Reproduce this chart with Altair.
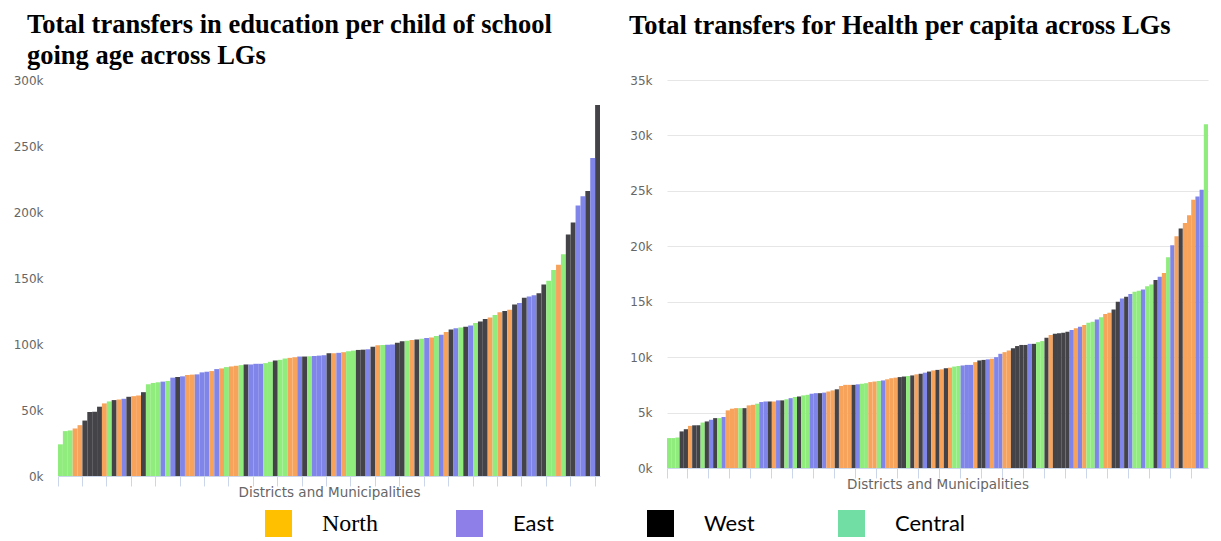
import altair as alt
import pandas as pd

REGIONS = ["North", "East", "West", "Central"]
BAR_COLORS = ["#f7a35c", "#8085e9", "#434348", "#90ed7d"]
LEGEND_COLORS = ["#ffc000", "#8e7fe8", "#000000", "#71dfa4"]

# Education transfers per child of school going age (UGX), sorted ascending
edu_values = [
    24000, 34000, 34500, 36000, 38500, 42000, 48500, 48700, 52500, 55000,
    56500, 57500, 58000, 58500, 60000, 60500, 61000, 63500, 69500, 70500,
    71000, 71500, 72000, 74500, 75000, 75500, 76500, 76800, 77000, 78500,
    79000, 79500, 81000, 81500, 82500, 83000, 83500, 84000, 84500, 84500,
    85000, 85000, 85500, 86500, 87500, 88000, 89000, 89500, 90000, 90500,
    90500, 90700, 91000, 91200, 91500, 93000, 93000, 93300, 93800, 94500,
    95000, 95500, 95700, 96000, 98000, 99000, 99200, 99500, 99700, 101000,
    102000, 102500, 103000, 103500, 104000, 104500, 105000, 106000, 107000, 109000,
    111000, 112000, 112500, 113000, 114000, 116000, 117000, 119000, 120000, 122000,
    124000, 125000, 126000, 130000, 131000, 135000, 136000, 137000, 138500, 145000,
    148000, 156000, 160000, 168000, 183000, 192000, 205000, 212000, 216000, 241000,
    281000,
]
edu_regions = [
    "Central", "Central", "Central", "North", "North", "West", "West", "West", "West", "North",
    "Central", "West", "North", "East", "West", "North", "North", "West", "Central", "Central",
    "Central", "East", "Central", "East", "West", "East", "North", "North", "East", "East",
    "East", "North", "East", "North", "Central", "North", "North", "Central", "West", "East",
    "East", "East", "Central", "Central", "West", "Central", "Central", "North", "North", "East",
    "West", "Central", "East", "East", "East", "West", "North", "East", "North", "Central",
    "Central", "West", "West", "East", "West", "North", "Central", "East", "East", "West",
    "West", "Central", "North", "West", "Central", "East", "North", "Central", "East", "North",
    "West", "East", "Central", "West", "East", "Central", "West", "West", "North", "Central",
    "North", "West", "North", "West", "East", "West", "East", "East", "West", "West",
    "Central", "Central", "North", "Central", "West", "West", "East", "East", "West", "East",
    "West",
]

# Health transfers per capita (UGX), sorted ascending
health_values = [
    2700, 2700, 2750, 3300, 3500, 3800, 3850, 3850, 4100, 4200,
    4350, 4500, 4500, 4600, 5200, 5350, 5400, 5400, 5400, 5650,
    5700, 5800, 5950, 6000, 6000, 6000, 6100, 6100, 6200, 6300,
    6400, 6450, 6550, 6600, 6700, 6750, 6750, 6800, 6900, 7000,
    7100, 7400, 7500, 7500, 7500, 7550, 7600, 7650, 7750, 7800,
    7850, 7900, 8000, 8100, 8150, 8200, 8250, 8300, 8350, 8450,
    8500, 8600, 8700, 8800, 8850, 8900, 9000, 9050, 9150, 9200,
    9250, 9300, 9300, 9550, 9700, 9750, 9800, 9850, 10000, 10300,
    10450, 10600, 10800, 11000, 11100, 11100, 11200, 11200, 11350, 11450,
    11750, 12000, 12100, 12150, 12200, 12300, 12450, 12600, 12750, 12900,
    13100, 13200, 13400, 13600, 13900, 14000, 14300, 15000, 15300, 15450,
    15700, 15900, 16000, 16100, 16400, 16550, 16950, 17250, 17600, 19000,
    20100, 20900, 21600, 22100, 22800, 24200, 24500, 25100, 31000,
]
health_regions = [
    "Central", "Central", "Central", "West", "West", "North", "West", "West", "Central", "West",
    "East", "West", "Central", "East", "North", "North", "North", "Central", "West", "North",
    "North", "Central", "East", "East", "West", "North", "East", "West", "Central", "East",
    "Central", "West", "Central", "Central", "East", "East", "West", "East", "North", "North",
    "West", "North", "North", "North", "West", "East", "Central", "Central", "North", "North",
    "Central", "East", "North", "North", "North", "West", "West", "Central", "West", "North",
    "West", "East", "West", "North", "West", "North", "West", "North", "Central", "Central",
    "East", "East", "East", "North", "West", "West", "East", "North", "East", "East",
    "North", "North", "West", "West", "West", "West", "East", "West", "Central", "Central",
    "West", "North", "West", "West", "West", "West", "East", "North", "East", "North",
    "Central", "Central", "East", "Central", "North", "North", "West", "West", "East", "West",
    "East", "Central", "Central", "East", "Central", "Central", "West", "East", "North", "Central",
    "East", "North", "West", "North", "North", "North", "East", "East", "Central",
]

edu = pd.DataFrame({"idx": list(range(len(edu_values))), "value": edu_values, "region": edu_regions})
health = pd.DataFrame({"idx": list(range(len(health_values))), "value": health_values, "region": health_regions})

GRAY = "#666666"
AXIS_FONT = "DejaVu Sans"


def panel(df, width, height, ymax, step, title, title_dx, title_offset, with_legend):
    n = len(df)
    xenc = alt.X(
        "idx:O",
        scale=alt.Scale(paddingInner=0, paddingOuter=0),
        axis=alt.Axis(
            values=list(range(0, n, 5)),
            bandPosition=0,
            labels=False,
            ticks=True,
            tickSize=10,
            tickColor="#ccd6eb",
            domain=True,
            domainColor="#ccd6eb",
            grid=False,
            title="Districts and Municipalities",
            titleFont=AXIS_FONT,
            titleFontSize=13.5,
            titleFontWeight="normal",
            titleColor=GRAY,
            titlePadding=-1,
        ),
    )
    yscale = alt.Scale(domain=[0, ymax], nice=False)
    yaxis = alt.Axis(
        values=list(range(0, ymax + 1, step)),
        labelExpr="datum.value / 1000 + 'k'",
        title=None,
        domain=False,
        ticks=False,
        labelPadding=15,
        labelFont=AXIS_FONT,
        labelFontSize=12,
        labelColor=GRAY,
        gridColor="#e6e6e6",
        gridWidth=1,
    )
    bars = alt.Chart(df).mark_bar().encode(
        x=xenc,
        y=alt.Y("value:Q", scale=yscale, axis=yaxis),
        color=alt.Color("region:N", scale=alt.Scale(domain=REGIONS, range=BAR_COLORS), legend=None),
    )
    layers = [bars]
    if with_legend:
        hidden = alt.Chart(df).mark_bar().encode(
            x=xenc,
            y=alt.YDatum(0, scale=yscale, axis=yaxis),
            fill=alt.Fill(
                "region:N",
                scale=alt.Scale(domain=REGIONS, range=LEGEND_COLORS),
                legend=alt.Legend(
                    title=None,
                    orient="none",
                    legendX=207,
                    legendY=430,
                    direction="horizontal",
                    columns=4,
                    gridAlign="all",
                    symbolType="square",
                    symbolSize=729,
                    symbolStrokeWidth=0,
                    labelFont=alt.ExprRef(expr="datum.label == 'North' ? 'Liberation Serif' : 'Lato'"),
                    labelFontSize=alt.ExprRef(expr="datum.label == 'North' ? 24 : 22"),
                    labelColor="black",
                    labelOffset=30,
                    columnPadding=63,
                    labelLimit=300,
                ),
            ),
        )
        layers = [hidden, bars]
    return alt.layer(*layers).properties(
        width=width,
        height=height,
        title=alt.TitleParams(
            text=title,
            anchor="start",
            frame="group",
            dx=title_dx,
            offset=title_offset,
            font="Liberation Serif",
            fontSize=26.5,
            fontWeight="bold",
            color="black",
            lineHeight=31,
        ),
    )


left = panel(
    edu, 542, 396, 300000, 50000,
    ["Total transfers in education per child of school", "going age across LGs"],
    -31, 5, True,
)
right = panel(
    health, 541, 388, 35000, 5000,
    "Total transfers for Health per capita across LGs",
    -38, 35, False,
)

chart = (
    alt.hconcat(left, right, spacing=67, bounds="flush")
    .configure_view(stroke=None)
    .properties(padding={"left": 5, "top": 3, "right": 5, "bottom": 0})
)

chart.save("out.html", embed_options={"renderer": "svg", "actions": False})
